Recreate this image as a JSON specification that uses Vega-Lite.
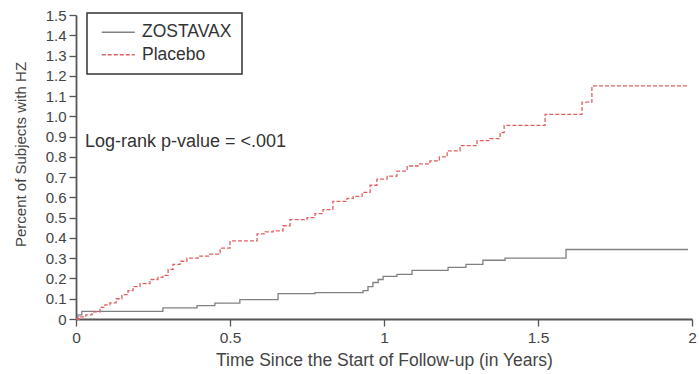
{
  "$schema": "https://vega.github.io/schema/vega-lite/v6.json",
  "autosize": {"type": "none"},
  "padding": {"left": 76, "top": 15, "right": 7, "bottom": 55},
  "width": 616,
  "height": 304,
  "config": {
    "view": {"stroke": null},
    "font": "Liberation Sans",
    "axis": {"grid": false, "domainColor": "#555555", "domainWidth": 1.8, "tickColor": "#555555", "tickWidth": 1.3, "tickSize": 7, "labelColor": "#444444", "labelFontSize": 15.5, "titleColor": "#444444", "titleFontWeight": "normal", "labelOverlap": false, "labelBound": false, "labelFlush": false}
  },
  "datasets": {
    "km": [
      {"group": "ZOSTAVAX", "t": 0, "p": 0},
      {"group": "ZOSTAVAX", "t": 0.006, "p": 0.02},
      {"group": "ZOSTAVAX", "t": 0.019, "p": 0.038},
      {"group": "ZOSTAVAX", "t": 0.282, "p": 0.055},
      {"group": "ZOSTAVAX", "t": 0.393, "p": 0.066},
      {"group": "ZOSTAVAX", "t": 0.451, "p": 0.078},
      {"group": "ZOSTAVAX", "t": 0.532, "p": 0.096},
      {"group": "ZOSTAVAX", "t": 0.656, "p": 0.125},
      {"group": "ZOSTAVAX", "t": 0.776, "p": 0.13},
      {"group": "ZOSTAVAX", "t": 0.932, "p": 0.14},
      {"group": "ZOSTAVAX", "t": 0.948, "p": 0.16},
      {"group": "ZOSTAVAX", "t": 0.964, "p": 0.18},
      {"group": "ZOSTAVAX", "t": 0.981, "p": 0.195},
      {"group": "ZOSTAVAX", "t": 0.997, "p": 0.21},
      {"group": "ZOSTAVAX", "t": 1.042, "p": 0.22},
      {"group": "ZOSTAVAX", "t": 1.091, "p": 0.24},
      {"group": "ZOSTAVAX", "t": 1.208, "p": 0.255},
      {"group": "ZOSTAVAX", "t": 1.266, "p": 0.27},
      {"group": "ZOSTAVAX", "t": 1.321, "p": 0.29},
      {"group": "ZOSTAVAX", "t": 1.393, "p": 0.30},
      {"group": "ZOSTAVAX", "t": 1.591, "p": 0.343},
      {"group": "ZOSTAVAX", "t": 1.987, "p": 0.343},
      {"group": "Placebo", "t": 0, "p": 0},
      {"group": "Placebo", "t": 0.013, "p": 0.01},
      {"group": "Placebo", "t": 0.032, "p": 0.02},
      {"group": "Placebo", "t": 0.052, "p": 0.035},
      {"group": "Placebo", "t": 0.078, "p": 0.057},
      {"group": "Placebo", "t": 0.094, "p": 0.07},
      {"group": "Placebo", "t": 0.11, "p": 0.08},
      {"group": "Placebo", "t": 0.13, "p": 0.10},
      {"group": "Placebo", "t": 0.149, "p": 0.12},
      {"group": "Placebo", "t": 0.169, "p": 0.14},
      {"group": "Placebo", "t": 0.185, "p": 0.16},
      {"group": "Placebo", "t": 0.208, "p": 0.175},
      {"group": "Placebo", "t": 0.24, "p": 0.195},
      {"group": "Placebo", "t": 0.266, "p": 0.205},
      {"group": "Placebo", "t": 0.282, "p": 0.215},
      {"group": "Placebo", "t": 0.299, "p": 0.245},
      {"group": "Placebo", "t": 0.315, "p": 0.27},
      {"group": "Placebo", "t": 0.338, "p": 0.285},
      {"group": "Placebo", "t": 0.36, "p": 0.30},
      {"group": "Placebo", "t": 0.396, "p": 0.31},
      {"group": "Placebo", "t": 0.435, "p": 0.32},
      {"group": "Placebo", "t": 0.468, "p": 0.35},
      {"group": "Placebo", "t": 0.50, "p": 0.385},
      {"group": "Placebo", "t": 0.588, "p": 0.42},
      {"group": "Placebo", "t": 0.614, "p": 0.43},
      {"group": "Placebo", "t": 0.64, "p": 0.435},
      {"group": "Placebo", "t": 0.672, "p": 0.46},
      {"group": "Placebo", "t": 0.695, "p": 0.49},
      {"group": "Placebo", "t": 0.75, "p": 0.50},
      {"group": "Placebo", "t": 0.776, "p": 0.52},
      {"group": "Placebo", "t": 0.802, "p": 0.54},
      {"group": "Placebo", "t": 0.834, "p": 0.58},
      {"group": "Placebo", "t": 0.88, "p": 0.595},
      {"group": "Placebo", "t": 0.90, "p": 0.605},
      {"group": "Placebo", "t": 0.929, "p": 0.625},
      {"group": "Placebo", "t": 0.955, "p": 0.66},
      {"group": "Placebo", "t": 0.977, "p": 0.69},
      {"group": "Placebo", "t": 1.01, "p": 0.705},
      {"group": "Placebo", "t": 1.042, "p": 0.73},
      {"group": "Placebo", "t": 1.075, "p": 0.755},
      {"group": "Placebo", "t": 1.11, "p": 0.765},
      {"group": "Placebo", "t": 1.149, "p": 0.78},
      {"group": "Placebo", "t": 1.18, "p": 0.80},
      {"group": "Placebo", "t": 1.205, "p": 0.83},
      {"group": "Placebo", "t": 1.247, "p": 0.855},
      {"group": "Placebo", "t": 1.302, "p": 0.88},
      {"group": "Placebo", "t": 1.344, "p": 0.89},
      {"group": "Placebo", "t": 1.377, "p": 0.92},
      {"group": "Placebo", "t": 1.39, "p": 0.955},
      {"group": "Placebo", "t": 1.523, "p": 1.01},
      {"group": "Placebo", "t": 1.643, "p": 1.07},
      {"group": "Placebo", "t": 1.675, "p": 1.15},
      {"group": "Placebo", "t": 1.984, "p": 1.15}
    ],
    "note": [{"t": 0.029, "p": 0.874, "label": "Log-rank p-value = <.001"}]
  },
  "layer": [
    {
      "data": {"name": "km"},
      "mark": {"type": "line", "interpolate": "step-after", "strokeWidth": 1.3},
      "encoding": {
        "x": {"field": "t", "type": "quantitative", "scale": {"domain": [0, 2], "nice": false}, "axis": {"values": [0, 0.5, 1, 1.5, 2], "tickCount": 10, "labelExpr": "'' + datum.value", "title": "Time Since the Start of Follow-up (in Years)", "titleFontSize": 17.5, "titlePadding": 6, "labelPadding": 4, "labelOverlap": false}},
        "y": {"field": "p", "type": "quantitative", "scale": {"domain": [0, 1.5], "nice": false}, "axis": {"values": [0, 0.1, 0.2, 0.3, 0.4, 0.5, 0.6, 0.7, 0.8, 0.9, 1.0, 1.1, 1.2, 1.3, 1.4, 1.5], "tickCount": 30, "labelExpr": "datum.value == 0 ? '0' : format(datum.value, '.1f')", "title": "Percent of Subjects with HZ", "titleFontSize": 15, "titlePadding": 17, "titleY": 139, "labelPadding": 3, "labelOverlap": false, "labelBound": false, "labelFlush": false, "labelFontSize": 15}},
        "color": {"field": "group", "type": "nominal", "scale": {"domain": ["ZOSTAVAX", "Placebo"], "range": ["#808080", "#e06060"]}, "legend": {"title": null, "orient": "none", "legendX": 11, "legendY": -2, "strokeColor": "#333333", "padding": 10.5, "rowPadding": 3.5, "labelFontSize": 17.5, "labelColor": "#333333", "symbolType": "M-3,0H3", "symbolSize": 121, "symbolStrokeWidth": 1.5, "symbolOffset": 12, "labelOffset": 15, "encode": {"legend": {"update": {"strokeWidth": {"value": 1.5}}}}}},
        "strokeDash": {"field": "group", "type": "nominal", "scale": {"domain": ["ZOSTAVAX", "Placebo"], "range": [[1, 0], [4, 2]]}, "legend": null},
        "detail": {"field": "group"}
      }
    },
    {
      "data": {"name": "note"},
      "mark": {"type": "text", "align": "left", "baseline": "middle", "fontSize": 18, "color": "#333333"},
      "encoding": {
        "x": {"field": "t", "type": "quantitative"},
        "y": {"field": "p", "type": "quantitative"},
        "text": {"field": "label"}
      }
    }
  ]
}
